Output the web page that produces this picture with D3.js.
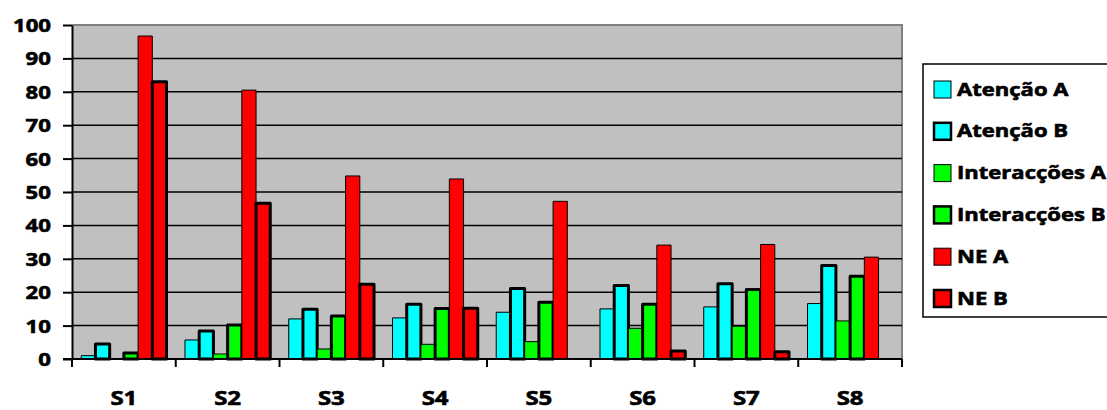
<!DOCTYPE html>
<html>
<head>
<meta charset="utf-8">
<script src="https://cdn.jsdelivr.net/npm/d3@7"></script>
<style>
  body { margin: 0; background: #fff; }
  text { font-family: "Open Sans", sans-serif; font-weight: 700; fill: #000;
         stroke: #000; stroke-width: 0.6px; paint-order: stroke; }
</style>
</head>
<body>
<svg id="chart" width="1107" height="410"></svg>
<script>
// Sessions on the x axis
const sessions = ["S1", "S2", "S3", "S4", "S5", "S6", "S7", "S8"];

// Series names (legend order = bar order inside each session)
const seriesNames = ["Atenção A", "Atenção B", "Interacções A", "Interacções B", "NE A", "NE B"];

// Series values per session
const atencaoA     = [1.0, 5.7, 12.0, 12.3, 14.0, 15.0, 15.6, 16.6];
const atencaoB     = [4.5, 8.4, 14.9, 16.4, 21.1, 22.0, 22.5, 28.0];
const interaccoesA = [0.0, 1.5, 3.0, 4.4, 5.2, 9.2, 9.8, 11.4];
const interaccoesB = [1.8, 10.2, 12.9, 15.1, 17.0, 16.4, 20.8, 24.8];
const neA          = [96.7, 80.5, 54.8, 53.9, 47.2, 34.1, 34.3, 30.5];
const neB          = [83.0, 46.6, 22.4, 15.2, 0.0, 2.4, 2.2, 0.0];

// Y axis tick labels
const yTicks = [0, 10, 20, 30, 40, 50, 60, 70, 80, 90, 100];

const seriesValues = [atencaoA, atencaoB, interaccoesA, interaccoesB, neA, neB];
const fills = ["#00FFFF", "#00FFFF", "#00FF00", "#00FF00", "#FF0000", "#FF0000"];
const borders = [1, 3, 1, 3, 1, 3];

const svg = d3.select("#chart");
const plot = { left: 72, right: 902, top: 25, bottom: 359 };
const textStretch = 1.2;

const x0 = d3.scaleBand().domain(sessions).range([plot.left, plot.right]).paddingInner(0).paddingOuter(0);
const x1 = d3.scaleBand().domain(seriesNames).range([0, x0.bandwidth()]).paddingInner(0).paddingOuter(0.65);
const y = d3.scaleLinear().domain([0, 100]).range([plot.bottom, plot.top]);

// Plot area background
svg.append("rect")
  .attr("x", plot.left).attr("y", plot.top)
  .attr("width", plot.right - plot.left).attr("height", plot.bottom - plot.top)
  .attr("fill", "#C0C0C0");

// Grey frame on top and right
svg.append("path")
  .attr("d", `M${plot.left},${plot.top}H${plot.right}V${plot.bottom}`)
  .attr("fill", "none").attr("stroke", "#808080").attr("stroke-width", 2);

// Horizontal gridlines
svg.append("g").selectAll("line")
  .data(yTicks.filter(t => t > 0 && t < 100))
  .join("line")
  .attr("x1", plot.left).attr("x2", plot.right)
  .attr("y1", d => y(d)).attr("y2", d => y(d))
  .attr("stroke", "#000").attr("stroke-width", 1.5);

// Bars
const rows = sessions.map((s, i) => ({
  session: s,
  bars: seriesNames.map((n, k) => ({ name: n, k, value: seriesValues[k][i] }))
}));

const groups = svg.append("g").selectAll("g")
  .data(rows).join("g")
  .attr("transform", d => `translate(${x0(d.session)},0)`);

groups.selectAll("rect")
  .data(d => d.bars.filter(b => b.value > 0))
  .join("rect")
  .attr("x", b => x1(b.name))
  .attr("width", x1.bandwidth())
  .attr("y", b => y(b.value))
  .attr("height", b => y(0) - y(b.value))
  .attr("fill", b => fills[b.k])
  .attr("stroke", "#000")
  .attr("stroke-width", b => borders[b.k])
  .attr("stroke-linejoin", "round");

// Y axis
const yAxis = svg.append("g")
  .attr("transform", `translate(${plot.left},0)`)
  .call(d3.axisLeft(y).tickValues(yTicks).tickSize(9).tickSizeOuter(0));
yAxis.select(".domain").attr("stroke", "#000").attr("stroke-width", 2);
yAxis.selectAll(".tick line").attr("stroke", "#000").attr("stroke-width", 2);
yAxis.selectAll(".tick text")
  .attr("x", 0)
  .attr("dy", "0.35em")
  .attr("text-anchor", "end")
  .attr("transform", `translate(-21,0) scale(${textStretch},1)`)
  .style("font-size", "18.5px")
  .style("font-family", "'Open Sans', sans-serif")
  .style("font-weight", 700)
  .attr("fill", "#000");

// X axis: baseline with ticks at session boundaries
const xAxis = svg.append("g");
xAxis.append("line")
  .attr("x1", plot.left - 9).attr("x2", plot.right)
  .attr("y1", plot.bottom).attr("y2", plot.bottom)
  .attr("stroke", "#000").attr("stroke-width", 2);
const boundaries = sessions.map(s => x0(s)).concat([x0(sessions[sessions.length - 1]) + x0.bandwidth()]);
xAxis.selectAll("line.tick")
  .data(boundaries).join("line")
  .attr("class", "tick")
  .attr("x1", d => d).attr("x2", d => d)
  .attr("y1", plot.bottom).attr("y2", plot.bottom + 8)
  .attr("stroke", "#000").attr("stroke-width", 2);
xAxis.selectAll("text")
  .data(sessions).join("text")
  .attr("text-anchor", "middle")
  .attr("transform", s => `translate(${x0(s) + x0.bandwidth() / 2},405) scale(${textStretch},1)`)
  .style("font-size", "20px")
  .text(s => s);

// Legend
const legend = svg.append("g").attr("transform", "translate(923,64)");
legend.append("rect")
  .attr("x", 0).attr("y", 0).attr("width", 200).attr("height", 253)
  .attr("fill", "#fff").attr("stroke", "#000").attr("stroke-width", 1.5);
const items = legend.selectAll("g.item")
  .data(seriesNames).join("g")
  .attr("class", "item")
  .attr("transform", (d, i) => `translate(0,${25 + i * 41.8})`);
items.append("rect")
  .attr("x", 11).attr("y", -8).attr("width", 17).attr("height", 17)
  .attr("fill", (d, i) => fills[i])
  .attr("stroke", "#000")
  .attr("stroke-width", (d, i) => borders[i] === 3 ? 2.5 : 1);
items.append("text")
  .attr("transform", `translate(34,6.5) scale(1.26,1)`)
  .style("font-size", "17.5px")
  .text(d => d);
</script>
</body>
</html>
